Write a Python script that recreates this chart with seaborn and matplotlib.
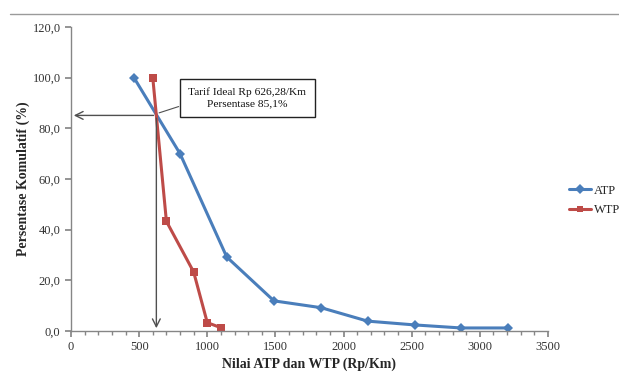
import matplotlib
matplotlib.use("Agg")
import matplotlib.pyplot as plt
import matplotlib.ticker as mticker
from matplotlib.lines import Line2D
import seaborn as sns
import pandas as pd

atp_x = [462, 800, 1143, 1489, 1835, 2176, 2521, 2862, 3205]
atp_y = [100.0, 70.0, 29.2, 11.9, 9.2, 3.9, 2.4, 1.2, 1.2]
wtp_x = [600, 700, 900, 1000, 1100]
wtp_y = [100.0, 43.3, 23.3, 3.3, 1.3]
ideal_x = 626.28
ideal_y = 85.1
annot_text = "Tarif Ideal Rp 626,28/Km\nPersentase 85,1%"

df = pd.concat([
    pd.DataFrame({"x": atp_x, "y": atp_y, "Seri": "ATP"}),
    pd.DataFrame({"x": wtp_x, "y": wtp_y, "Seri": "WTP"}),
], ignore_index=True)

sns.set_theme(style="white")
plt.rcParams["font.family"] = ["Liberation Serif", "DejaVu Serif"]

fig = plt.figure(figsize=(6.19, 3.78), dpi=100)
ax = fig.add_axes([71/619, 1-331/378, (548-71)/619, (331-27)/378])

palette = {"ATP": "#4A7EBB", "WTP": "#BE4B48"}
sns.lineplot(data=df, x="x", y="y", hue="Seri", style="Seri", palette=palette,
             markers={"ATP": "D", "WTP": "s"}, dashes=False, sort=False,
             linewidth=2.2, markersize=5.5, markeredgewidth=0, ax=ax)

ax.set_xlim(0, 3500)
ax.set_ylim(0, 120)
ax.xaxis.set_major_locator(mticker.MultipleLocator(500))
ax.xaxis.set_minor_locator(mticker.MultipleLocator(100))
ax.yaxis.set_major_locator(mticker.MultipleLocator(20))
ax.yaxis.set_major_formatter(mticker.FuncFormatter(lambda v, p: f"{v:.1f}".replace(".", ",")))
ax.xaxis.set_major_formatter(mticker.FuncFormatter(lambda v, p: f"{int(v)}"))
for s in ["top", "right"]:
    ax.spines[s].set_visible(False)
for s in ["left", "bottom"]:
    ax.spines[s].set_color("#868686")
    ax.spines[s].set_linewidth(1.0)
ax.tick_params(axis="both", which="major", direction="out", length=4, color="#868686",
               labelsize=9, labelcolor="#333333", bottom=True, left=True)
ax.tick_params(axis="x", which="minor", direction="out", length=3, color="#868686", bottom=True)

ax.set_xlabel("Nilai ATP dan WTP (Rp/Km)", fontsize=10, fontweight="bold", labelpad=3)
ax.set_ylabel("Persentase Komulatif (%)", fontsize=10, fontweight="bold", labelpad=2)

# arrows
ax.annotate("", xy=(0, ideal_y), xytext=(ideal_x, ideal_y),
            arrowprops=dict(arrowstyle="->", color="#505050", lw=1.0, mutation_scale=14))
ax.annotate("", xy=(ideal_x, 0), xytext=(ideal_x, ideal_y),
            arrowprops=dict(arrowstyle="->", color="#505050", lw=1.0, mutation_scale=14))
ax.plot([ideal_x + 20, 790], [ideal_y + 1, ideal_y + 3.5], color="#505050", lw=0.8)
ax.text(1295, 92, annot_text, ha="center", va="center", fontsize=8.2, color="#111111",
        linespacing=1.35,
        bbox=dict(boxstyle="square,pad=0.75", fc="white", ec="#222222", lw=1.0))

ax.legend_.remove()
handles = [Line2D([], [], color=palette["ATP"], marker="D", lw=2.2, ms=5, mew=0),
           Line2D([], [], color=palette["WTP"], marker="s", lw=2.2, ms=5, mew=0)]
fig.legend(handles, ["ATP", "WTP"], loc="upper left", bbox_to_anchor=(560/619, 1-176/378),
           frameon=False, fontsize=9, handlelength=1.8, handletextpad=0.2, labelspacing=0.6,
           borderpad=0.2)

fig.add_artist(Line2D([10/619, 1], [1-14/378, 1-14/378], color="#9a9a9a", lw=1.0))

fig.savefig("out.png", dpi=100)
